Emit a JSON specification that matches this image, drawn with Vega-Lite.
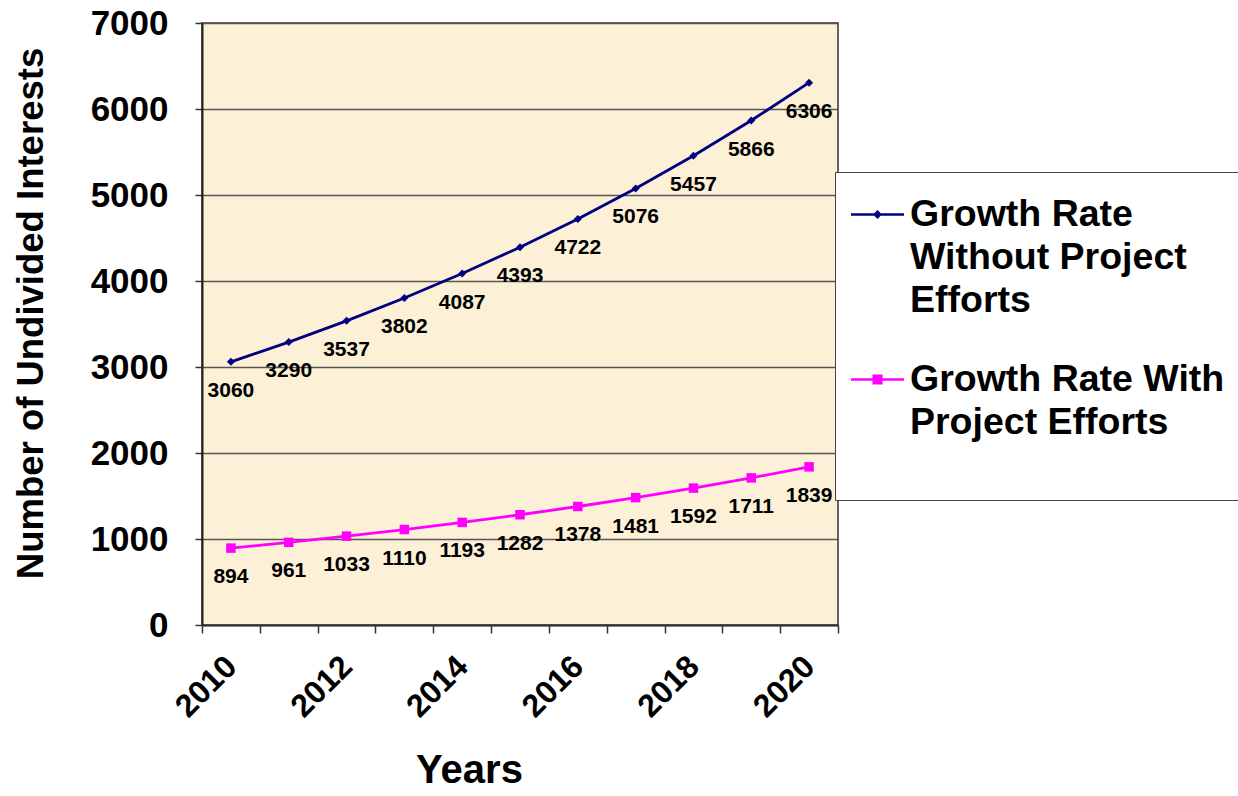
{
  "$schema": "https://vega.github.io/schema/vega-lite/v6.json",
  "autosize": {"type": "none"},
  "padding": {"left": 202, "top": 23, "right": 400, "bottom": 171},
  "width": 636,
  "height": 602,
  "background": "white",
  "config": {
    "font": "Liberation Sans",
    "view": {"fill": "#FCF0D7", "stroke": "#333333", "strokeWidth": 1.5}
  },
  "data": {
    "values": [
      {"year": 2010, "series": "Growth Rate Without Project Efforts", "value": 3060},
      {"year": 2011, "series": "Growth Rate Without Project Efforts", "value": 3290},
      {"year": 2012, "series": "Growth Rate Without Project Efforts", "value": 3537},
      {"year": 2013, "series": "Growth Rate Without Project Efforts", "value": 3802},
      {"year": 2014, "series": "Growth Rate Without Project Efforts", "value": 4087},
      {"year": 2015, "series": "Growth Rate Without Project Efforts", "value": 4393},
      {"year": 2016, "series": "Growth Rate Without Project Efforts", "value": 4722},
      {"year": 2017, "series": "Growth Rate Without Project Efforts", "value": 5076},
      {"year": 2018, "series": "Growth Rate Without Project Efforts", "value": 5457},
      {"year": 2019, "series": "Growth Rate Without Project Efforts", "value": 5866},
      {"year": 2020, "series": "Growth Rate Without Project Efforts", "value": 6306},
      {"year": 2010, "series": "Growth Rate With Project Efforts", "value": 894},
      {"year": 2011, "series": "Growth Rate With Project Efforts", "value": 961},
      {"year": 2012, "series": "Growth Rate With Project Efforts", "value": 1033},
      {"year": 2013, "series": "Growth Rate With Project Efforts", "value": 1110},
      {"year": 2014, "series": "Growth Rate With Project Efforts", "value": 1193},
      {"year": 2015, "series": "Growth Rate With Project Efforts", "value": 1282},
      {"year": 2016, "series": "Growth Rate With Project Efforts", "value": 1378},
      {"year": 2017, "series": "Growth Rate With Project Efforts", "value": 1481},
      {"year": 2018, "series": "Growth Rate With Project Efforts", "value": 1592},
      {"year": 2019, "series": "Growth Rate With Project Efforts", "value": 1711},
      {"year": 2020, "series": "Growth Rate With Project Efforts", "value": 1839}
    ]
  },
  "encoding": {
    "x": {
      "field": "year",
      "type": "ordinal",
      "scale": {"type": "band", "paddingInner": 0, "paddingOuter": 0},
      "axis": {
        "title": "Years",
        "titleFontSize": 40,
        "titleFontWeight": "bold",
        "titleColor": "black",
        "titlePadding": 28,
        "titleX": 267,
        "tickBand": "extent",
        "tickSize": 8,
        "tickColor": "#333333",
        "tickWidth": 1.5,
        "domainColor": "#333333",
        "domainWidth": 2,
        "labelAngle": -45,
        "labelAlign": "right",
        "labelBaseline": "middle",
        "labelPadding": 28,
        "labelFontSize": 32,
        "labelFontWeight": "bold",
        "labelColor": "black",
        "labelExpr": "datum.value % 2 === 0 ? datum.label : ''",
        "grid": false
      }
    },
    "y": {
      "field": "value",
      "type": "quantitative",
      "scale": {"domain": [0, 7000], "nice": false},
      "axis": {
        "title": "Number of Undivided Interests",
        "titleFontSize": 36.5,
        "titleFontWeight": "bold",
        "titleColor": "black",
        "titlePadding": 40,
        "titleY": 290,
        "values": [0, 1000, 2000, 3000, 4000, 5000, 6000, 7000],
        "format": "d",
        "tickSize": 7,
        "tickColor": "#333333",
        "tickWidth": 1.5,
        "domainColor": "#222222",
        "domainWidth": 2,
        "labelPadding": 27,
        "labelFontSize": 35,
        "labelFontWeight": "bold",
        "labelColor": "black",
        "grid": true,
        "gridColor": "#555555",
        "gridWidth": 1.3
      }
    }
  },
  "layer": [
    {
      "mark": {"type": "line", "strokeWidth": 2.8},
      "encoding": {
        "color": {
          "field": "series",
          "type": "nominal",
          "scale": {
            "domain": ["Growth Rate Without Project Efforts", "Growth Rate With Project Efforts"],
            "range": ["#000080", "#FF00FF"]
          },
          "legend": {
            "title": null,
            "orient": "none",
            "legendX": 633,
            "legendY": 149,
            "padding": 16,
            "strokeColor": "#444444",
            "fillColor": "white",
            "cornerRadius": 0,
            "symbolSize": 2809,
            "symbolStrokeWidth": 0,
            "labelOffset": 6,
            "labelFontSize": 37.5,
            "labelFontWeight": "bold",
            "labelColor": "black",
            "labelLimit": 600,
            "labelBaseline": "middle",
            "rowPadding": 34,
            "labelExpr": "datum.label == 'Growth Rate Without Project Efforts' ? ['Growth Rate', 'Without Project', 'Efforts'] : ['Growth Rate With', 'Project Efforts', '']",
            "encoding": {
              "symbols": {
                "shape": {"value": {"expr": "datum.value == 'Growth Rate Without Project Efforts' ? 'M-1,-0.05H1V0.05H-1Z M0,-0.17L0.17,0L0,0.17L-0.17,0Z' : 'M-1,-0.05H1V0.05H-1Z M-0.19,-0.19H0.19V0.19H-0.19Z'"}},
                "size": {"value": 2809},
                "fill": {"value": {"expr": "scale('color', datum.value)"}},
                "fillOpacity": {"value": 1},
                "stroke": {"value": "transparent"},
                "strokeWidth": {"value": 0}
              },
              "labels": {
                "lineHeight": {"value": 43}
              }
            }
          }
        }
      }
    },
    {
      "transform": [{"filter": "datum.series == 'Growth Rate Without Project Efforts'"}],
      "mark": {"type": "point", "filled": true, "opacity": 1, "shape": "diamond", "size": 64},
      "encoding": {
        "color": {"field": "series", "type": "nominal"}
      }
    },
    {
      "transform": [{"filter": "datum.series == 'Growth Rate With Project Efforts'"}],
      "mark": {"type": "point", "filled": true, "opacity": 1, "shape": "square", "size": 90},
      "encoding": {
        "color": {"field": "series", "type": "nominal"}
      }
    },
    {
      "mark": {"type": "text", "dy": 29, "fontSize": 21, "fontWeight": "bold", "color": "black"},
      "encoding": {
        "text": {"field": "value", "type": "quantitative", "format": "d"}
      }
    }
  ]
}
